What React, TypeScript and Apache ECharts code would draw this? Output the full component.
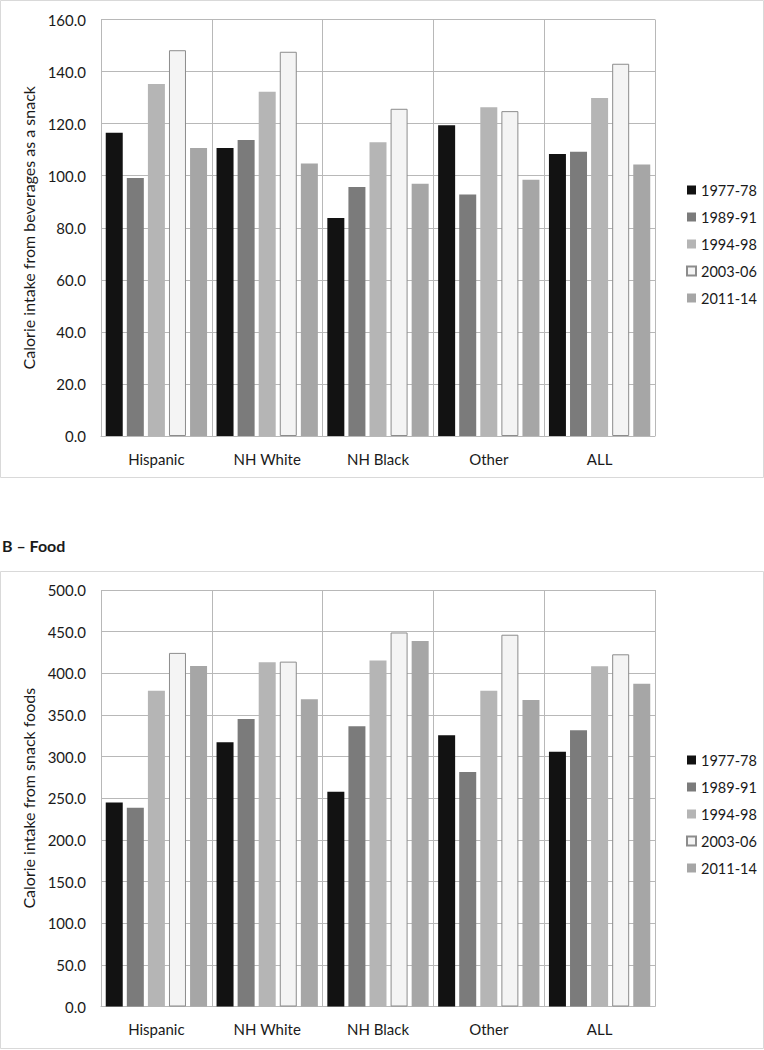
import React, { useEffect, useRef } from "react";
import * as echarts from "echarts";

const categories = ["Hispanic", "NH White", "NH Black", "Other", "ALL"];
const periods = ["1977-78", "1989-91", "1994-98", "2003-06", "2011-14"];

// Panel A – beverages
const bev1977 = [116.5, 110.6, 83.7, 119.4, 108.3];
const bev1989 = [99.1, 113.7, 95.7, 92.8, 109.2];
const bev1994 = [135.2, 132.2, 112.8, 126.3, 129.8];
const bev2003 = [148.2, 147.6, 125.7, 124.8, 143.0];
const bev2011 = [110.6, 104.7, 96.9, 98.4, 104.3];

// Panel B – food
const food1977 = [244.8, 317.2, 257.9, 325.5, 305.8];
const food1989 = [238.7, 345.1, 336.4, 281.4, 331.6];
const food1994 = [379.1, 413.2, 415.4, 379.1, 408.4];
const food2003 = [424.5, 414.0, 449.0, 446.3, 422.8];
const food2011 = [408.8, 368.7, 438.9, 367.8, 387.4];

const yTitleA = "Calorie intake from beverages as a snack";
const yTitleB = "Calorie intake from snack foods";
const titleB = "B \u2013 Food";

const fills = ["#121212", "#7b7b7b", "#b5b5b5", "#f4f4f4", "#a6a6a6"];
const FONT = "Lato";
const GRID = "#b8b8b8";

export default function App() {
  const ref = useRef<HTMLDivElement>(null);
  useEffect(() => {
    if (!ref.current) return;
    const chart = echarts.init(ref.current, undefined, { renderer: "svg" });
    const bevData = [bev1977, bev1989, bev1994, bev2003, bev2011];
    const foodData = [food1977, food1989, food1994, food2003, food2011];

    const mkSeries = (data: number[][], idx: number) =>
      data.map((d, i) => ({
        type: "bar",
        name: periods[i],
        xAxisIndex: idx,
        yAxisIndex: idx,
        data: d,
        barWidth: 17,
        barGap: "24%",
        itemStyle: {
          color: fills[i],
          borderColor: i === 3 ? "#8c8c8c" : fills[i],
          borderWidth: i === 3 ? 1 : 0,
        },
      }));

    const xAxis = (idx: number) => ({
      type: "category",
      gridIndex: idx,
      data: categories,
      axisLine: { show: true, lineStyle: { color: GRID } },
      axisTick: { show: false },
      axisLabel: { color: "#1a1a1a", fontFamily: FONT, fontSize: 15, margin: 15 },
      splitLine: { show: true, lineStyle: { color: GRID, width: 1 } },
    });

    const yAxis = (idx: number, max: number, interval: number, name: string) => ({
      type: "value",
      gridIndex: idx,
      min: 0,
      max,
      interval,
      name,
      nameLocation: "middle",
      nameGap: 58,
      nameTextStyle: { color: "#1a1a1a", fontFamily: FONT, fontSize: 16 },
      axisLine: { show: false },
      axisTick: { show: false },
      axisLabel: {
        color: "#1a1a1a",
        fontFamily: FONT,
        fontSize: 15,
        margin: 15,
        formatter: (v: number) => v.toFixed(1),
      },
      splitLine: { show: true, lineStyle: { color: GRID, width: 1 } },
    });

    const legend = (top: number) => ({
      orient: "vertical",
      left: 681,
      top,
      icon: "rect",
      itemWidth: 9,
      itemHeight: 9,
      itemGap: 11,
      data: periods,
      textStyle: { color: "#1a1a1a", fontFamily: FONT, fontSize: 14.5, lineHeight: 16 },
    });

    chart.setOption({
      animation: false,
      backgroundColor: "#ffffff",
      grid: [
        { left: 101, top: 19.5, width: 554, height: 416.5 },
        { left: 101, top: 590, width: 554, height: 416.5 },
      ],
      xAxis: [xAxis(0), xAxis(1)],
      yAxis: [yAxis(0, 160, 20, yTitleA), yAxis(1, 500, 50, yTitleB)],
      legend: [legend(177), legend(747)],
      series: [...mkSeries(bevData, 0), ...mkSeries(foodData, 1)],
      graphic: [
        {
          type: "rect",
          shape: { x: 0.5, y: 0.5, width: 763, height: 477 },
          style: { fill: "none", stroke: "#d9d9d9", lineWidth: 1 },
          silent: true,
          z: -1,
        },
        {
          type: "rect",
          shape: { x: 0.5, y: 571.5, width: 763, height: 477 },
          style: { fill: "none", stroke: "#d9d9d9", lineWidth: 1 },
          silent: true,
          z: -1,
        },
        {
          type: "text",
          x: 2,
          y: 545,
          style: {
            text: titleB,
            fill: "#1a1a1a",
            font: `bold 16px ${FONT}`,
            verticalAlign: "middle",
            align: "left",
          },
        },
      ],
    });
    return () => chart.dispose();
  }, []);

  return (
    <div
      ref={ref}
      style={{ position: "absolute", left: 0, top: 0, width: 764, height: 1050 }}
    />
  );
}
